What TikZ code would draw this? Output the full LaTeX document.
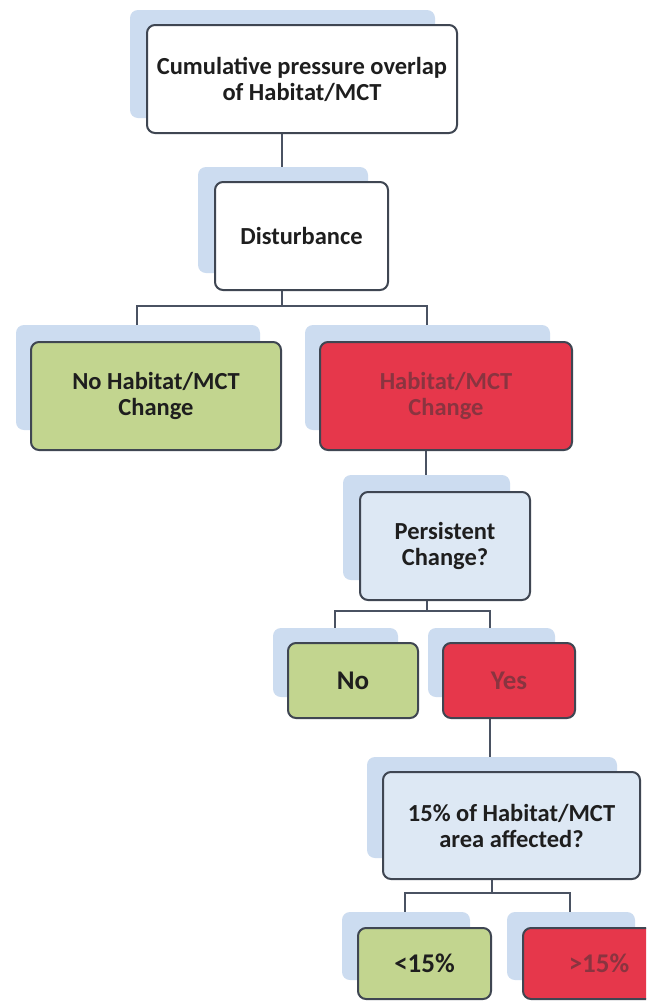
\documentclass[tikz,border=0pt]{standalone}
\usepackage{fontspec}
\setmainfont{Carlito}
\definecolor{shadc}{HTML}{CCDCF0}
\definecolor{bordc}{HTML}{3F4652}
\definecolor{connc}{HTML}{4A5262}
\definecolor{greenc}{HTML}{C2D58F}
\definecolor{redc}{HTML}{E6374B}
\definecolor{bluec}{HTML}{DDE8F4}
\definecolor{txtc}{HTML}{1E1E1E}
\definecolor{redtxt}{HTML}{8A3440}
\tikzset{
  shad/.style={fill=shadc, draw=none, rounded corners=8pt, inner sep=0pt},
  fbox/.style={draw=bordc, line width=2pt, rounded corners=8pt, inner sep=0pt, align=center,
    text=txtc, font=\fontsize{24.5}{26}\selectfont\bfseries},
  bigtxt/.style={font=\fontsize{27}{29}\selectfont\bfseries},
  whitebox/.style={fbox, fill=white},
  bluebox/.style={fbox, fill=bluec},
  greenbox/.style={fbox, fill=greenc},
  redbox/.style={fbox, fill=redc, text=redtxt},
  conn/.style={draw=connc, line width=2pt}
}
\begin{document}
\begin{tikzpicture}[x=1pt, y=-1pt]
\useasboundingbox (0,0) rectangle (646,1002);
\clip (0,0) rectangle (646,1002);
\fill[white] (0,0) rectangle (646,1002);

% junction coordinates
\coordinate (j1) at (282,158);
\coordinate (h1) at (282,306);
\coordinate (h1l) at (137,306);
\coordinate (h1r) at (427,306);
\coordinate (j2) at (426,470);
\coordinate (h2) at (427,611);
\coordinate (h2l) at (335,611);
\coordinate (h2r) at (490,611);
\coordinate (j3) at (490,745);
\coordinate (h3) at (492,893);
\coordinate (h3l) at (405,893);
\coordinate (h3r) at (570,893);

% box frames (named, drawn below)
\path
  (302,79) node[minimum width=310pt, minimum height=108pt] (b1) {}
  (301.5,236) node[minimum width=173pt, minimum height=108pt] (b2) {}
  (156,396) node[minimum width=250pt, minimum height=108pt] (b3) {}
  (446,396) node[minimum width=252pt, minimum height=108pt] (b4) {}
  (445,546) node[minimum width=170pt, minimum height=108pt] (b5) {}
  (353,680.5) node[minimum width=130pt, minimum height=75pt] (b6) {}
  (509,680.5) node[minimum width=132pt, minimum height=75pt] (b7) {}
  (511.5,825.5) node[minimum width=257pt, minimum height=107pt] (b8) {}
  (424.5,963.5) node[minimum width=133pt, minimum height=71pt] (b9) {}
  (599,963.5) node[minimum width=152pt, minimum height=71pt] (b10) {};

% connectors
\draw[conn] (j1 |- b1.south) -- (j1 |- b2.north);
\draw[conn] (h1 |- b2.south) -- (h1);
\draw[conn] (h1l |- b3.north) -- (h1l) -- (h1r) -- (h1r |- b4.north);
\draw[conn] (j2 |- b4.south) -- (j2 |- b5.north);
\draw[conn] (h2 |- b5.south) -- (h2);
\draw[conn] (h2l |- b6.north) -- (h2l) -- (h2r) -- (h2r |- b7.north);
\draw[conn] (j3 |- b7.south) -- (j3 |- b8.north);
\draw[conn] (h3 |- b8.south) -- (h3);
\draw[conn] (h3l |- b9.north) -- (h3l) -- (h3r) -- (h3r |- b10.north);

% shadows
\node[shad, minimum width=305pt, minimum height=108pt] (s1) at (282.5,64) {};
\node[shad, minimum width=170pt, minimum height=106pt] (s2) at (283,220) {};
\node[shad, minimum width=244pt, minimum height=105pt] (s3) at (138,377.5) {};
\node[shad, minimum width=245pt, minimum height=105pt] (s4) at (427.5,377.5) {};
\node[shad, minimum width=167pt, minimum height=105pt] (s5) at (426.5,527.5) {};
\node[shad, minimum width=125pt, minimum height=69pt] (s6) at (335.5,662.5) {};
\node[shad, minimum width=127pt, minimum height=69pt] (s7) at (491.5,662.5) {};
\node[shad, minimum width=250pt, minimum height=101pt] (s8) at (492,807.5) {};
\node[shad, minimum width=128pt, minimum height=68pt] (s9) at (406,946) {};
\node[shad, minimum width=128pt, minimum height=68pt] (s10) at (571,946) {};

% visible boxes
\node[whitebox, minimum width=310pt, minimum height=108pt] at (b1) {Cumulative pressure overlap\\of Habitat/MCT};
\node[whitebox, minimum width=173pt, minimum height=108pt] at (b2) {Disturbance};
\node[greenbox, minimum width=250pt, minimum height=108pt] at (b3) {No Habitat/MCT\\Change};
\node[redbox, minimum width=252pt, minimum height=108pt] at (b4) {Habitat/MCT\\Change};
\node[bluebox, minimum width=170pt, minimum height=108pt] at (b5) {Persistent\\Change?};
\node[greenbox, bigtxt, minimum width=130pt, minimum height=75pt] at (b6) {No};
\node[redbox, bigtxt, minimum width=132pt, minimum height=75pt] at (b7) {Yes};
\node[bluebox, minimum width=257pt, minimum height=107pt] at (b8) {15\% of Habitat/MCT\\area affected?};
\node[greenbox, bigtxt, minimum width=133pt, minimum height=71pt] at (b9) {<15\%};
\node[redbox, bigtxt, minimum width=152pt, minimum height=71pt] at (b10) {>15\%};
\end{tikzpicture}
\end{document}
